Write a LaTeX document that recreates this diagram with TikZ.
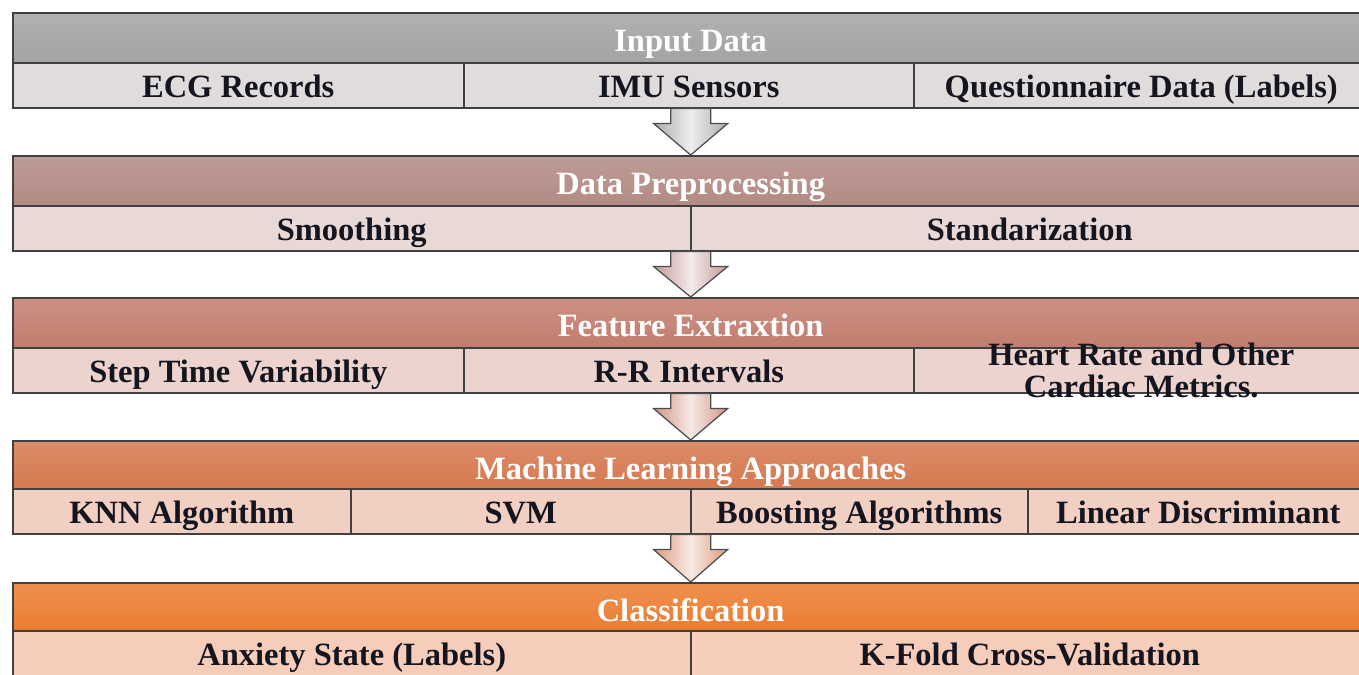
\documentclass[tikz,border=0pt]{standalone}
\usepackage{fontspec}
\setmainfont{Liberation Serif}
\usetikzlibrary{calc}
\usepackage{xcolor}

\definecolor{hdrA}{HTML}{A3A3A3}
\definecolor{celA}{HTML}{E0DCDC}
\definecolor{arrA}{HTML}{ABABAB}
\definecolor{hdrB}{HTML}{B38A84}
\definecolor{celB}{HTML}{E8D9D7}
\definecolor{arrB}{HTML}{C49A95}
\definecolor{hdrC}{HTML}{C27D6E}
\definecolor{celC}{HTML}{ECD3CE}
\definecolor{arrC}{HTML}{D09485}
\definecolor{hdrD}{HTML}{D5784E}
\definecolor{celD}{HTML}{F1CFC3}
\definecolor{arrD}{HTML}{DE9A7E}
\definecolor{hdrE}{HTML}{EB7C30}
\definecolor{celE}{HTML}{F6CDBA}
\definecolor{cellink}{HTML}{15151F}

\tikzset{
  hdrbox/.style={draw=black!75, line width=0.9pt, top color=#1!85!white, bottom color=#1,
    minimum height=1cm, minimum width=27.12cm, anchor=north west, inner sep=0pt,
    text=white, text height=19pt, text depth=3pt,
    font=\fontsize{18.5}{18.5}\selectfont\bfseries},
  cellbox/.style={draw=black!75, line width=0.9pt, fill=#1, minimum height=0.9cm,
    anchor=north west, inner sep=0pt, text=cellink, text height=18pt, text depth=4pt,
    font=\fontsize{18.5}{18.5}\selectfont\bfseries},
  flowarrow/.style={draw=black!70, line width=0.7pt, left color=#1, right color=#1,
    middle color=#1!20!white}
}

% block arrow from the bottom of one band to the header of the next
\newcommand{\bandarrow}[3]{%
  \coordinate (tail) at (#2 |- #1);
  \path[flowarrow=#3] ($(tail)+(-20,0)$) -- ($(tail)+(20,0)$) -- ($(tail)+(20,15)$)
    -- ($(tail)+(37,15)$) -- (#2) -- ($(tail)+(-37,15)$) -- ($(tail)+(-20,15)$) -- cycle;}

\begin{document}
\begin{tikzpicture}[x=0.02cm, y=-0.02cm]
  \useasboundingbox (0,0) rectangle (1359,674);

  % input data
  \node [hdrbox=hdrA] (input) at (12,12) {Input Data};
  \node [cellbox=celA, minimum width=9.02cm] (ecg) at (12,62) {ECG Records};
  \node [cellbox=celA, minimum width=9cm] (imu) at (463,62) {IMU Sensors};
  \node [cellbox=celA, minimum width=9.1cm] (quest) at (913,62) {Questionnaire Data (Labels)};

  % preprocessing
  \node [hdrbox=hdrB] (prep) at (12,155) {Data Preprocessing};
  \node [cellbox=celB, minimum width=13.56cm] (smooth) at (12,205) {Smoothing};
  \node [cellbox=celB, minimum width=13.56cm] (stand) at (690,205) {Standarization};

  % features
  \node [hdrbox=hdrC] (feat) at (12,297) {Feature Extraxtion};
  \node [cellbox=celC, minimum width=9.02cm] (step) at (12,347) {Step Time Variability};
  \node [cellbox=celC, minimum width=9cm] (rr) at (463,347) {R-R Intervals};
  \node [cellbox=celC, minimum width=9.1cm,
    label={[text=cellink, align=center, font=\fontsize{18.5}{18}\selectfont\bfseries]center:Heart Rate and Other\\Cardiac Metrics.}]
    (heart) at (913,347) {};

  % learning
  \node [hdrbox=hdrD] (learn) at (12,440) {Machine Learning Approaches};
  \node [cellbox=celD, minimum width=6.76cm] (knn) at (12,488) {KNN Algorithm};
  \node [cellbox=celD, minimum width=6.8cm] (svm) at (350,488) {SVM};
  \node [cellbox=celD, minimum width=6.74cm] (boost) at (690,488) {Boosting Algorithms};
  \node [cellbox=celD, minimum width=6.82cm] (lda) at (1027,488) {Linear Discriminant};

  % classification
  \node [hdrbox=hdrE] (classif) at (12,582) {Classification};
  \node [cellbox=celE, minimum width=13.56cm] (anx) at (12,630) {Anxiety State (Labels)};
  \node [cellbox=celE, minimum width=13.56cm] (kfold) at (690,630) {K-Fold Cross-Validation};

  \bandarrow{imu.south}{prep.north}{arrA}
  \bandarrow{smooth.south}{feat.north}{arrB}
  \bandarrow{rr.south}{learn.north}{arrC}
  \bandarrow{svm.south}{classif.north}{arrD}
\end{tikzpicture}
\end{document}
